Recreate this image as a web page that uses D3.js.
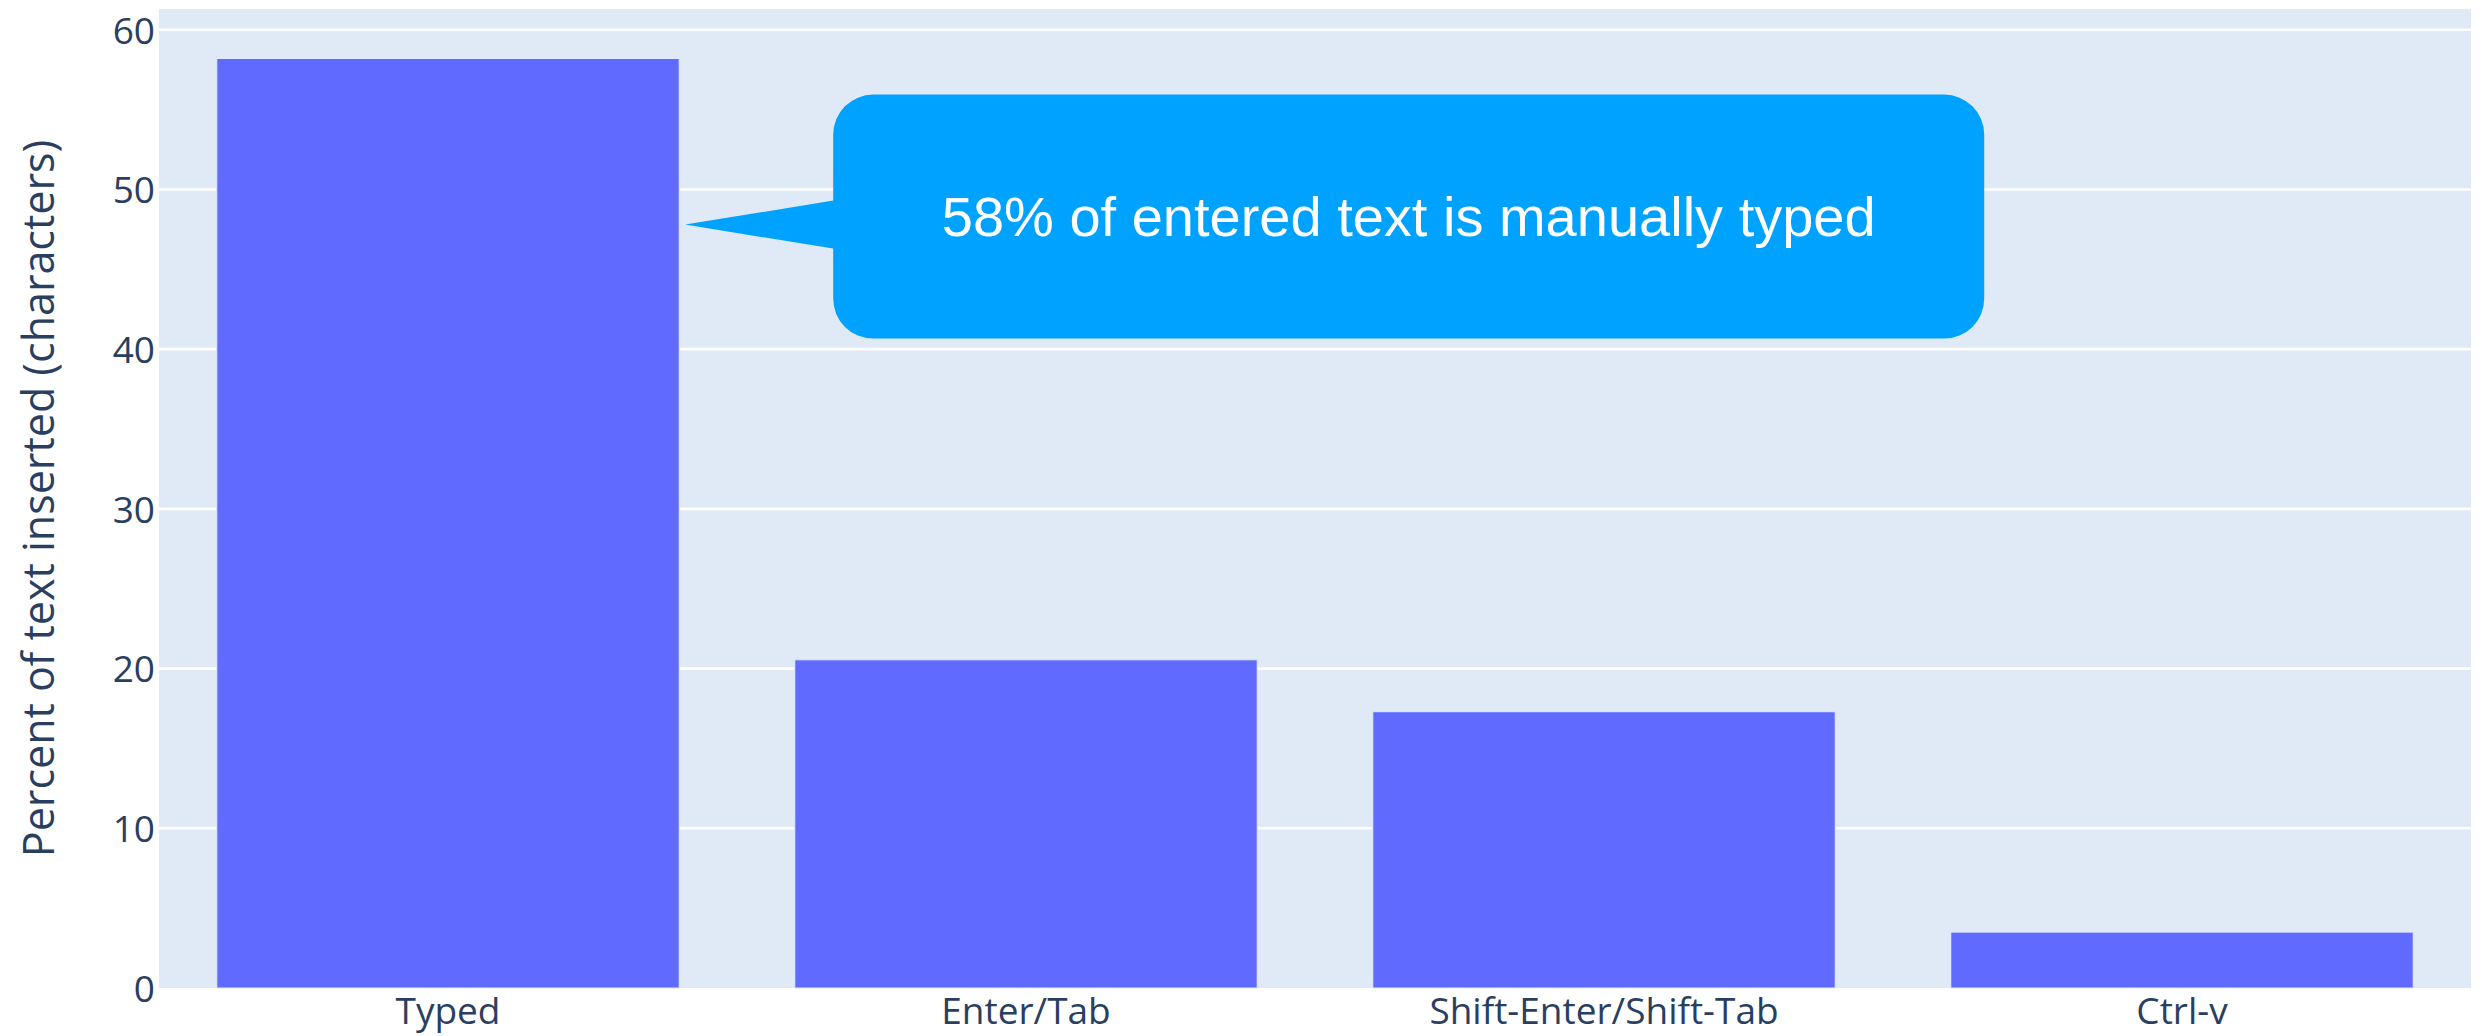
<!DOCTYPE html>
<html>
<head>
<meta charset="utf-8">
<script src="https://cdn.jsdelivr.net/npm/d3@7"></script>
<style>
  html, body { margin: 0; padding: 0; background: #ffffff; }
  svg { display: block; }
</style>
</head>
<body>
<svg id="chart" width="2487" height="1036"></svg>
<script>
// Share of inserted characters by entry method
const categories = ["Typed", "Enter/Tab", "Shift-Enter/Shift-Tab", "Ctrl-v"];
const percentValues = [58.2, 20.55, 17.3, 3.5];
const yTickValues = [0, 10, 20, 30, 40, 50, 60];
const yTitle = "Percent of text inserted (characters)";
const calloutText = "58% of entered text is manually typed";
const calloutTarget = { category: "Typed", value: 47.8 };

const W = 2487, H = 1036;
const plot = { left: 159, right: 2471, top: 9, bottom: 988 };

const svg = d3.select("#chart");

const x = d3.scaleBand()
  .domain(categories)
  .range([plot.left, plot.right])
  .paddingInner(0.2)
  .paddingOuter(0.1);

const y = d3.scaleLinear()
  .domain([0, 61.3])
  .range([plot.bottom, plot.top]);

// plot background
svg.append("rect")
  .attr("x", plot.left).attr("y", plot.top)
  .attr("width", plot.right - plot.left)
  .attr("height", plot.bottom - plot.top)
  .attr("fill", "#e0eaf6");

// horizontal grid lines
svg.append("g")
  .selectAll("line")
  .data(yTickValues.filter(d => d > 0))
  .join("line")
  .attr("x1", plot.left).attr("x2", plot.right)
  .attr("y1", d => y(d)).attr("y2", d => y(d))
  .attr("stroke", "#ffffff")
  .attr("stroke-width", 2.6);

// bars
svg.append("g")
  .selectAll("rect")
  .data(categories.map((c, i) => ({ c, v: percentValues[i] })))
  .join("rect")
  .attr("x", d => x(d.c))
  .attr("y", d => y(d.v))
  .attr("width", x.bandwidth())
  .attr("height", d => y(0) - y(d.v))
  .attr("fill", "#606aff")
  .attr("stroke", "#e0eaf6")
  .attr("stroke-width", 1);

// y axis
const yAxis = d3.axisLeft(y).tickValues(yTickValues).tickSize(0).tickPadding(4);
const gy = svg.append("g")
  .attr("transform", `translate(${plot.left},0)`)
  .call(yAxis);
gy.select(".domain").remove();
gy.selectAll("text")
  .attr("font-family", "'Open Sans', sans-serif")
  .attr("font-size", 37)
  .attr("fill", "#2a3f5f")
  .attr("dy", "0.36em");

// x axis
const xAxis = d3.axisBottom(x).tickSize(0).tickPadding(10);
const gx = svg.append("g")
  .attr("transform", `translate(0,${plot.bottom})`)
  .call(xAxis);
gx.select(".domain").remove();
gx.selectAll("text")
  .attr("font-family", "'Open Sans', sans-serif")
  .attr("font-size", 37)
  .attr("fill", "#2a3f5f");

// y axis title
svg.append("text")
  .attr("transform", `translate(54,${(plot.top + plot.bottom) / 2}) rotate(-90)`)
  .attr("text-anchor", "middle")
  .attr("font-family", "'Open Sans', sans-serif")
  .attr("font-size", 43)
  .attr("fill", "#2a3f5f")
  .text(yTitle);

// callout bubble pointing at the Typed bar
const tipX = x(calloutTarget.category) + x.bandwidth() + 6;
const tipY = y(calloutTarget.value);
const box = { x0: tipX + 148, x1: tipX + 1299, y0: tipY - 130, y1: tipY + 114, r: 40 };
const notch = { top: tipY - 24, bottom: tipY + 24 };

const p = d3.path();
p.moveTo(box.x0 + box.r, box.y0);
p.lineTo(box.x1 - box.r, box.y0);
p.arcTo(box.x1, box.y0, box.x1, box.y0 + box.r, box.r);
p.lineTo(box.x1, box.y1 - box.r);
p.arcTo(box.x1, box.y1, box.x1 - box.r, box.y1, box.r);
p.lineTo(box.x0 + box.r, box.y1);
p.arcTo(box.x0, box.y1, box.x0, box.y1 - box.r, box.r);
p.lineTo(box.x0, notch.bottom);
p.lineTo(tipX, tipY);
p.lineTo(box.x0, notch.top);
p.lineTo(box.x0, box.y0 + box.r);
p.arcTo(box.x0, box.y0, box.x0 + box.r, box.y0, box.r);
p.closePath();

svg.append("path")
  .attr("d", p.toString())
  .attr("fill", "#00a2ff");

svg.append("text")
  .attr("x", (box.x0 + box.x1) / 2)
  .attr("y", (box.y0 + box.y1) / 2)
  .attr("dy", "0.35em")
  .attr("text-anchor", "middle")
  .attr("font-family", "'Liberation Sans', Arial, Helvetica, sans-serif")
  .attr("font-size", 56)
  .attr("fill", "#ffffff")
  .text(calloutText);
</script>
</body>
</html>
